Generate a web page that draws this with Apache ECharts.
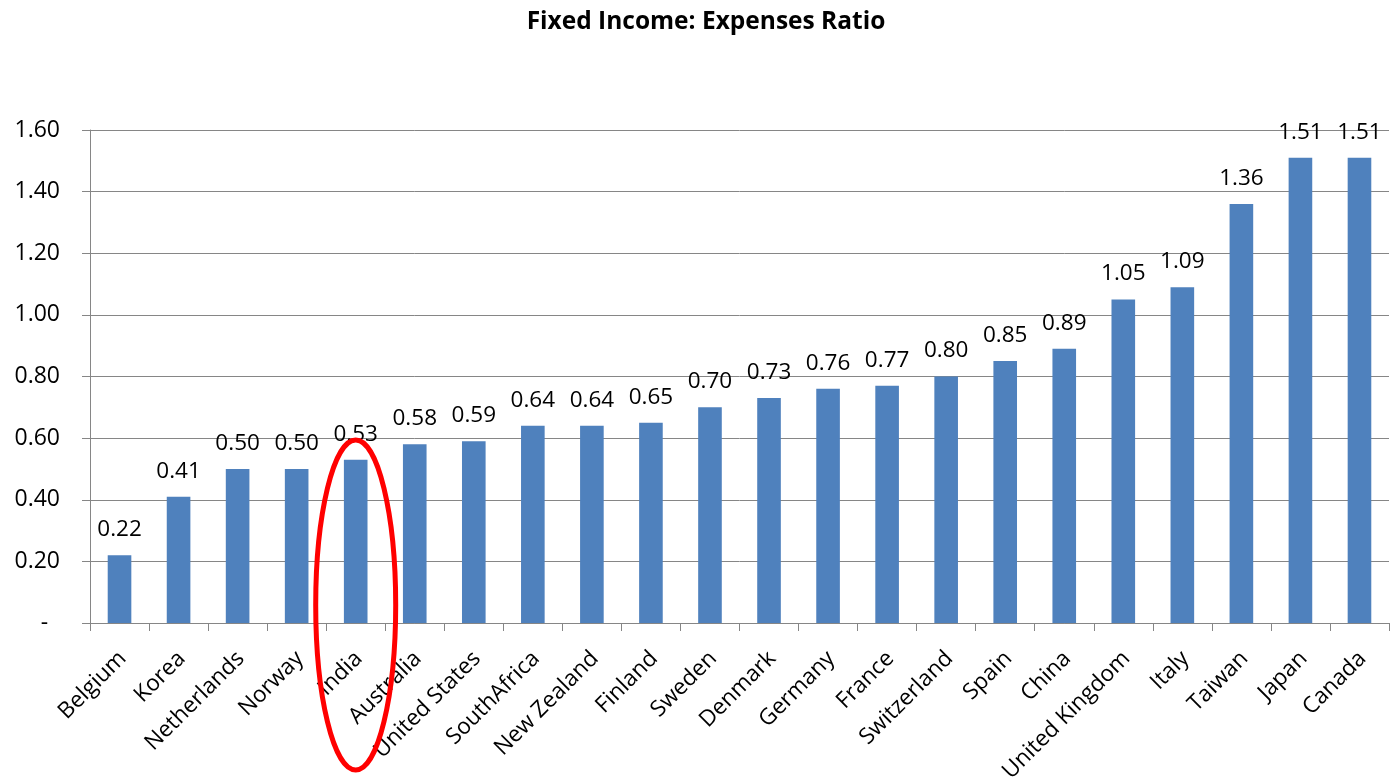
<!DOCTYPE html>
<html>
<head>
<meta charset="utf-8">
<script src="https://cdn.jsdelivr.net/npm/echarts@6/dist/echarts.min.js"></script>
<style>
html,body{margin:0;padding:0;background:#fff;}
#chart{width:1393px;height:780px;}
</style>
</head>
<body>
<div id="chart"></div>
<script>
const titleText = 'Fixed Income: Expenses Ratio';
const categories = ['Belgium','Korea','Netherlands','Norway','India','Australia','United States','SouthAfrica','New Zealand','Finland','Sweden','Denmark','Germany','France','Switzerland','Spain','China','United Kingdom','Italy','Taiwan','Japan','Canada'];
const values = [0.22,0.41,0.50,0.50,0.53,0.58,0.59,0.64,0.64,0.65,0.70,0.73,0.76,0.77,0.80,0.85,0.89,1.05,1.09,1.36,1.51,1.51];
const highlighted = 'India';

const FONT = '"Open Sans", "Liberation Sans", sans-serif';
const GREY = '#868686';

const chart = echarts.init(document.getElementById('chart'), null, {renderer: 'canvas'});
chart.setOption({
  animation: false,
  backgroundColor: '#ffffff',
  title: {
    text: titleText,
    left: 701, top: 5,
    textAlign: 'center',
    textStyle: {fontFamily: FONT, fontWeight: 'bold', fontSize: 24.5, color: '#000'}
  },
  grid: {left: 90, right: 4, top: 130, bottom: 157, containLabel: false, outerBoundsMode: 'none'},
  xAxis: {
    type: 'category',
    data: categories,
    boundaryGap: true,
    axisLine: {show: true, lineStyle: {color: GREY, width: 1}},
    axisTick: {show: true, length: 8, lineStyle: {color: GREY}},
    axisLabel: {
      interval: 0, rotate: 45, margin: 19, verticalAlign: 'top',
      padding: [0, 7, 0, 0],
      fontFamily: FONT, fontSize: 22.5, color: '#000'
    },
    splitLine: {show: false}
  },
  yAxis: {
    type: 'value',
    min: 0, max: 1.6, interval: 0.2,
    axisLine: {show: true, lineStyle: {color: GREY, width: 1}},
    axisTick: {show: true, length: 8, lineStyle: {color: GREY}},
    axisLabel: {
      margin: 30, fontFamily: FONT, fontSize: 23, color: '#000',
      formatter: v => v === 0 ? '-  ' : v.toFixed(2)
    },
    splitLine: {show: true, lineStyle: {color: GREY, width: 1}}
  },
  series: [{
    type: 'bar',
    data: values,
    barWidth: '40%',
    itemStyle: {color: '#4F81BD'},
    label: {
      show: true, position: 'top', distance: 14,
      fontFamily: FONT, fontSize: 22.5, color: '#000',
      formatter: p => p.value.toFixed(2)
    }
  }]
});

const p = chart.convertToPixel({xAxisIndex: 0, yAxisIndex: 0}, [highlighted, 0]);
chart.setOption({
  graphic: [{
    type: 'ellipse',
    shape: {cx: p[0], cy: p[1] - 18, rx: 40, ry: 165},
    style: {fill: 'none', stroke: '#FF0000', lineWidth: 5},
    z: 100
  }]
});
</script>
</body>
</html>
